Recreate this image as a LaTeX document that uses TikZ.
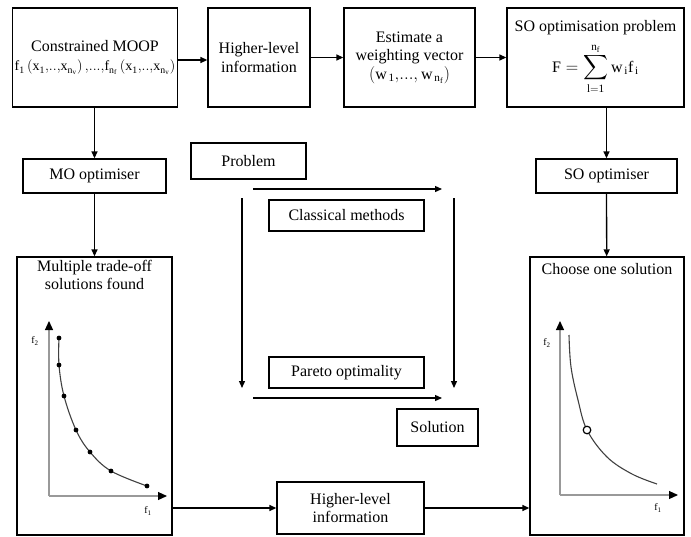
\documentclass[tikz,border=0pt]{standalone}
\usepackage{amsmath}
\usepackage{exscale}
\usepackage{fontspec}
\setmainfont{Liberation Serif}
\usepackage{tikz}
\usetikzlibrary{positioning,arrows.meta}

\tikzset{
  box/.style={draw, line width=1.3pt, align=center, inner sep=2pt,
    font=\fontsize{16}{18.5}\selectfont},
  arr/.style={line width=1.3pt, -{Triangle[length=7pt,width=6pt]}},
  axis/.style={line width=1.2pt, black!40, -{Triangle[length=9pt,width=8pt,color=black]}},
  lab/.style={inner sep=0pt, font=\fontsize{10}{12}\selectfont},
  curve/.style={line width=1.1pt, black!75},
}

\begin{document}
\begin{tikzpicture}[x=1pt,y=-1pt]
\useasboundingbox (0,0) rectangle (691,536);
% top row
\node[box, minimum width=160pt, minimum height=99pt] (moop) at (95,57.5)
  {Constrained MOOP\\[1pt] {\fontsize{14}{16}\selectfont
   $\mathrm{f_1\left(x_1{,}..{,}x_{n_v}\right){,}...{,}f_{n_f}\left(x_1{,}..{,}x_{n_v}\right)}$}};
\node[box, minimum width=102pt, minimum height=99pt] (hltop) at (259,57.5) {Higher-level\\information};
\node[box, minimum width=131pt, minimum height=99pt] (est) at (409.5,57.5)
  {Estimate a\\weighting vector\\$\left(\mathrm{w_{\,1}{,}...{,}\,w_{\,n_f}}\right)$};
\node[box, minimum width=177pt, minimum height=99pt] (soprob) at (595.5,57.5)
  {SO optimisation problem\\[7pt] {\fontsize{16}{18}\selectfont
   $\displaystyle\mathrm{F}=\sum\limits_{\mathrm{l=1}}^{\mathrm{n_f}}\mathrm{w_{\,i}f_{\,i}}$}};
\draw[arr] (moop.east |- 0,60) -- (hltop.west |- 0,60);
\draw[arr] (hltop) -- (est);
\draw[arr] (est) -- (soprob);

% optimisers
\node[box, minimum width=143pt, minimum height=34pt] (mo) at (94.5,176) {MO optimiser};
\node[box, minimum width=141pt, minimum height=34pt] (so) at (606.5,176) {SO optimiser};
\node[box, minimum width=155pt, minimum height=278pt] (multi) at (94.5,396) {};
\node[box, draw=none, below=1pt of multi.north] (multit) {Multiple trade-off\\solutions found};
\node[box, minimum width=154pt, minimum height=278pt] (choose) at (607,396) {};
\node[box, draw=none, below=4pt of choose.north] (chooset) {Choose one solution};
\draw[arr] (mo.north |- moop.south) -- (mo.north);
\draw[arr] (mo) -- (multi);
\draw[arr] (so.north |- soprob.south) -- (so.north);
\draw[arr] (so) -- (choose);

% middle square
\node[box, minimum width=115pt, minimum height=36pt] (problem) at (248.5,161) {Problem};
\node[box, minimum width=155pt, minimum height=31pt] (classic) at (346.5,215.5) {Classical methods};
\node[box, minimum width=155pt, minimum height=31pt] (pareto) at (346.5,372.5) {Pareto optimality};
\node[box, minimum width=81pt, minimum height=37pt] (solution) at (437.5,427.5) {Solution};
\coordinate (tl) at (253,189);  \coordinate (tr) at (442,189);
\coordinate (bl) at (253,398);  \coordinate (br) at (442,398);
\coordinate (lt) at (242,198);  \coordinate (lb) at (242,388);
\coordinate (rt) at (454,198);  \coordinate (rb) at (454,388);
\draw[arr] (tl) -- (tr);
\draw[arr] (bl) -- (br);
\draw[arr] (lt) -- (lb);
\draw[arr] (rt) -- (rb);

% bottom
\node[box, minimum width=147pt, minimum height=52pt] (hlbot) at (350.5,508) {Higher-level\\information};
\draw[arr] (multi.east |- hlbot.west) -- (hlbot.west);
\draw[arr] (hlbot.east) -- (choose.west |- hlbot.east);

% left plot
\draw[axis] (49,496) -- (49,321);
\draw[axis] (49,496) -- (167,496);
\node[lab] (f2a) at (35,341) {f\textsubscript{2}};
\node[lab] (f1a) at (148,511) {f\textsubscript{1}};
\draw[curve] plot[smooth, tension=0.6] coordinates
  {(59,338) (59,365) (64,396) (76,430) (90,452) (111,471) (147,486)};
\foreach \p in {(59,338),(59,365),(64,396),(76,430),(90,452),(111,471),(147,486)}
  \fill \p circle (2.4pt);

% right plot
\draw[axis] (560,495) -- (560,321);
\draw[axis] (560,495) -- (678,495);
\node[lab] (f2b) at (547,343) {f\textsubscript{2}};
\node[lab] (f1b) at (658,508) {f\textsubscript{1}};
\draw[curve] plot[smooth, tension=0.6] coordinates
  {(569,335) (571,367) (578,400) (587,430) (607,457) (632,474) (657,484)};
\draw[line width=1.2pt, fill=white] (587,430) circle (3.8pt);
\end{tikzpicture}
\end{document}
